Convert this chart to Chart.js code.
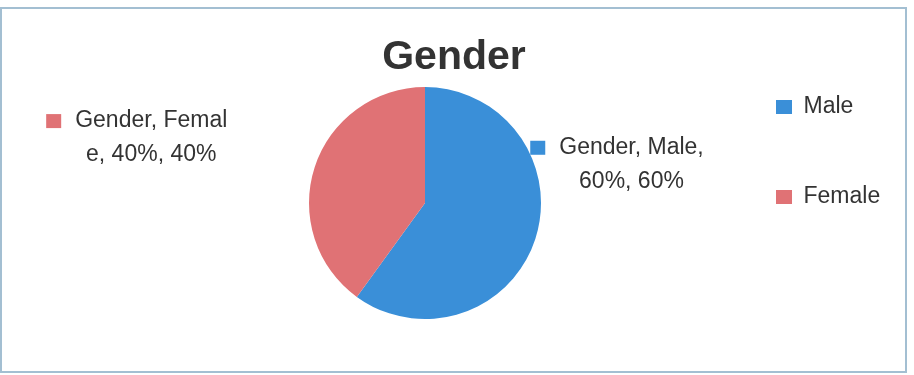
<!DOCTYPE html>
<html><head><meta charset="utf-8">
<script src="https://cdn.jsdelivr.net/npm/chart.js@4"></script>
<style>
html,body{margin:0;padding:0;background:#fff;}
#wrap{position:relative;width:914px;height:375px;}
#frame{position:absolute;left:0;top:7px;width:903px;height:362px;border:2px solid #a3bfd2;pointer-events:none;}
canvas{position:absolute;left:0;top:0;}
</style></head><body>
<div id="wrap"><canvas id="c" width="914" height="375"></canvas><div id="frame"></div></div>
<script>
// ---- data ----
const seriesName = 'Gender';
const categories = ['Male', 'Female'];
const values = [60, 40];
const percents = [60, 40];

// ---- style ----
const colors = ['#3a8fd8', '#e07275'];
const textColor = '#333333';
const FONT = '"Liberation Sans", Arial, sans-serif';
// label block centre, in units of pie radius from pie centre
const labelOffsets = [{dx: 1.78, dy: -0.33}, {dx: -2.36, dy: -0.56}];
const labelWrapAt = 13;

const dataLabels = {
  id: 'dataLabels',
  afterDatasetsDraw(chart) {
    const ctx = chart.ctx;
    const meta = chart.getDatasetMeta(0);
    ctx.save();
    ctx.font = '23px ' + FONT;
    ctx.textAlign = 'center';
    ctx.textBaseline = 'middle';
    const lh = 34;
    meta.data.forEach((arc, i) => {
      const {x, y, outerRadius} = arc.getProps(['x', 'y', 'outerRadius'], true);
      const cx = x + labelOffsets[i].dx * outerRadius;
      const cy = y + labelOffsets[i].dy * outerRadius;
      const full = `${seriesName}, ${categories[i]}, ${values[i]}%, ${percents[i]}%`;
      const lines = [full.slice(0, labelWrapAt), full.slice(labelWrapAt).trim()];
      ctx.fillStyle = textColor;
      lines.forEach((ln, j) => ctx.fillText(ln, cx, cy + (j - (lines.length - 1) / 2) * lh));
      const w0 = ctx.measureText(lines[0]).width;
      const y0 = cy - (lines.length - 1) / 2 * lh;
      ctx.fillStyle = colors[i];
      ctx.fillRect(cx - w0 / 2 - 14 - 15, y0 - 7, 15, 14);
    });
    ctx.restore();
  }
};

new Chart(document.getElementById('c'), {
  type: 'pie',
  data: {
    labels: categories,
    datasets: [{label: seriesName, data: values, backgroundColor: colors, borderWidth: 0, radius: 116}]
  },
  options: {
    responsive: false,
    animation: false,
    layout: {padding: {left: 17.8, right: 23.8, top: 28.5, bottom: 42.8}},
    plugins: {
      title: {
        display: true, text: seriesName, color: textColor, fullSize: true,
        font: {family: FONT, size: 41, weight: 'bold', lineHeight: 0.8},
        padding: {top: 12.6, bottom: 0}
      },
      subtitle: {
        // empty left spacer box that shifts the pie horizontally
        display: true, position: 'left', fullSize: false, text: '',
        font: {size: 1, lineHeight: 1}, padding: {top: 122.2, bottom: 0}
      },
      legend: {
        position: 'right', align: 'start', fullSize: true,
        labels: {boxWidth: 16, boxHeight: 14, padding: 67, color: textColor, font: {family: FONT, size: 23}}
      },
      tooltip: {enabled: false}
    }
  },
  plugins: [dataLabels]
});
</script>
</body></html>
